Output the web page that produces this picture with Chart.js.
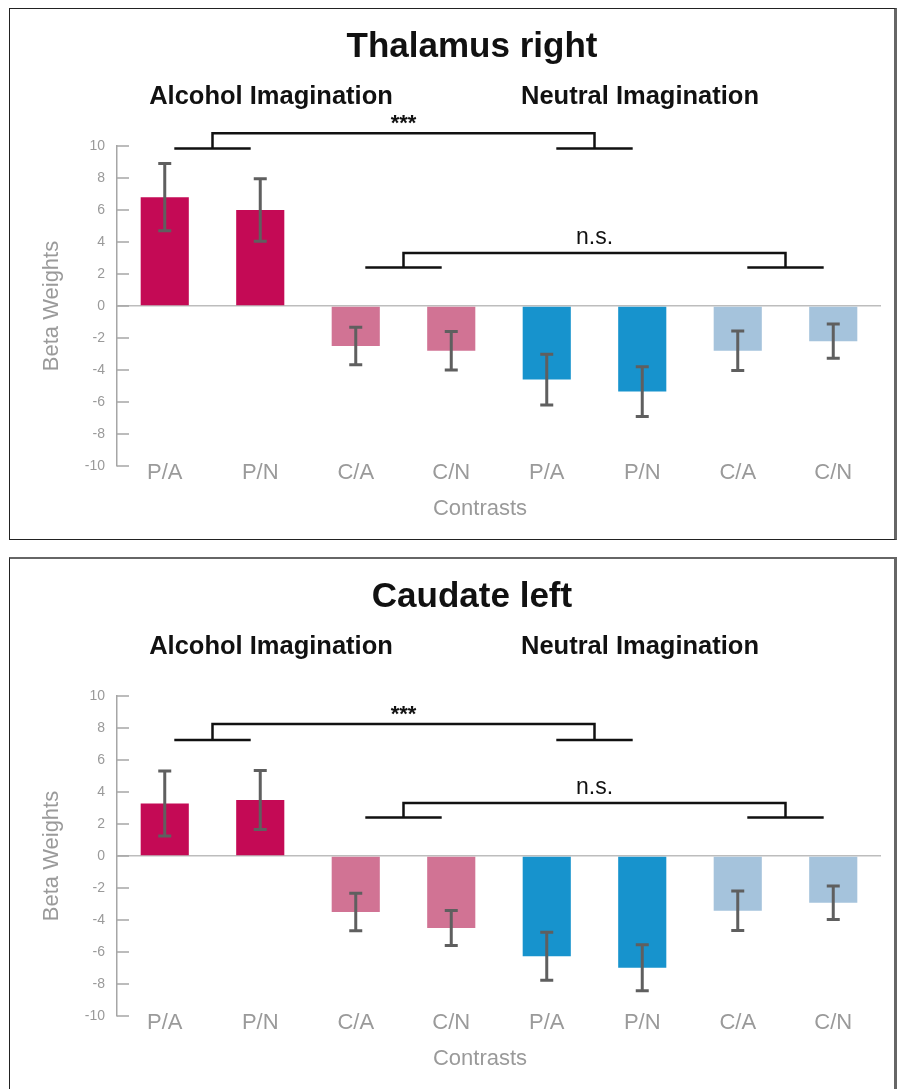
<!DOCTYPE html>
<html>
<head>
<meta charset="utf-8">
<script src="https://cdn.jsdelivr.net/npm/chart.js@4.4.1/dist/chart.umd.min.js"></script>
<style>
  body { margin: 0; background: #fff; width: 904px; height: 1089px; overflow: hidden; position: relative; }
  .panel { position: absolute; left: 9px; width: 884px; height: 530px; border: 1px solid #222; border-right: 3px solid #666; background: #fff; }
  #p1 { top: 8px; }
  #p2 { top: 557px; border-top: 2px solid #666; }
  canvas { display: block; }
</style>
</head>
<body>
<div class="panel" id="p1"><canvas id="thalamus" width="884" height="530"></canvas></div>
<div class="panel" id="p2"><canvas id="caudate" width="884" height="530"></canvas></div>
<script>
const contrasts = ['P/A', 'P/N', 'C/A', 'C/N', 'P/A', 'P/N', 'C/A', 'C/N'];
const barColors = ['#c40a55', '#c40a55', '#d17394', '#d17394', '#1793cd', '#1793cd', '#a5c3dc', '#a5c3dc'];

const thalamusBeta = [6.8, 6.0, -2.5, -2.8, -4.6, -5.35, -2.8, -2.2];
const thalamusSE = [2.1, 1.95, 1.17, 1.2, 1.58, 1.55, 1.23, 1.07];

const caudateBeta = [3.28, 3.5, -3.5, -4.5, -6.27, -6.98, -3.42, -2.92];
const caudateSE = [2.03, 1.85, 1.17, 1.09, 1.5, 1.44, 1.23, 1.05];

// significance brackets: between-bar positions (index units) and heights (beta units)
const thalamusBrackets = [
  { from: 0.5, to: 4.5, low: 9.85, high: 10.8, label: '***' },
  { from: 2.5, to: 6.5, low: 2.4, high: 3.32, label: 'n.s.' }
];
const caudateBrackets = [
  { from: 0.5, to: 4.5, low: 7.25, high: 8.25, label: '***' },
  { from: 2.5, to: 6.5, low: 2.4, high: 3.32, label: 'n.s.' }
];

const yTicks = [-10, -8, -6, -4, -2, 0, 2, 4, 6, 8, 10];

Chart.defaults.font.family = '"Liberation Sans", Arial, sans-serif';

function extras(title, se, brackets) {
  return {
    id: 'extras',
    afterDatasetsDraw(chart) {
      const ctx = chart.ctx;
      const y = chart.scales.y;
      const meta = chart.getDatasetMeta(0);
      const vals = chart.data.datasets[0].data;
      ctx.save();
      ctx.strokeStyle = '#5f5f5f';
      ctx.lineWidth = 3;
      meta.data.forEach((bar, i) => {
        const top = y.getPixelForValue(vals[i] + se[i]);
        const bot = y.getPixelForValue(vals[i] - se[i]);
        ctx.beginPath();
        ctx.moveTo(bar.x, top); ctx.lineTo(bar.x, bot);
        ctx.moveTo(bar.x - 6.5, top); ctx.lineTo(bar.x + 6.5, top);
        ctx.moveTo(bar.x - 6.5, bot); ctx.lineTo(bar.x + 6.5, bot);
        ctx.stroke();
      });
      ctx.restore();
    },
    afterDraw(chart) {
      const ctx = chart.ctx;
      const x = chart.scales.x;
      const y = chart.scales.y;
      const area = chart.chartArea;
      ctx.save();

      // inward y ticks
      ctx.strokeStyle = '#a6a6a6';
      ctx.lineWidth = 1.5;
      y.ticks.forEach(t => {
        const py = y.getPixelForValue(t.value);
        ctx.beginPath();
        ctx.moveTo(area.left, py);
        ctx.lineTo(area.left + 12, py);
        ctx.stroke();
      });

      // category labels, tucked up against the -10 line
      ctx.fillStyle = '#9a9a9a';
      ctx.font = '22px "Liberation Sans", Arial';
      ctx.textAlign = 'center';
      ctx.textBaseline = 'alphabetic';
      chart.data.labels.forEach((lab, i) => {
        ctx.fillText(lab, x.getPixelForValue(i), area.bottom + 12.5);
      });

      // brackets
      const half = 0.4;
      ctx.strokeStyle = '#111';
      ctx.lineWidth = 2.5;
      brackets.forEach(b => {
        const lo = y.getPixelForValue(b.low);
        const hi = y.getPixelForValue(b.high);
        const xa = x.getPixelForValue(b.from);
        const xb = x.getPixelForValue(b.to);
        ctx.beginPath();
        ctx.moveTo(x.getPixelForValue(b.from - half), lo);
        ctx.lineTo(x.getPixelForValue(b.from + half), lo);
        ctx.moveTo(x.getPixelForValue(b.to - half), lo);
        ctx.lineTo(x.getPixelForValue(b.to + half), lo);
        ctx.moveTo(xa, lo); ctx.lineTo(xa, hi); ctx.lineTo(xb, hi); ctx.lineTo(xb, lo);
        ctx.stroke();
        ctx.fillStyle = '#111';
        if (b.label === '***') {
          ctx.font = 'bold 22px "Liberation Sans", Arial';
          ctx.fillText(b.label, (xa + xb) / 2, hi - 3);
        } else {
          ctx.font = '23px "Liberation Sans", Arial';
          ctx.fillText(b.label, (xa + xb) / 2, hi - 9);
        }
      });

      // titles
      ctx.fillStyle = '#111';
      ctx.font = 'bold 35px "Liberation Sans", Arial';
      ctx.fillText(title, 462, 48);
      ctx.font = 'bold 25.5px "Liberation Sans", Arial';
      ctx.fillText('Alcohol Imagination', 261, 95);
      ctx.fillText('Neutral Imagination', 630, 95);

      // axis titles
      ctx.fillStyle = '#9a9a9a';
      ctx.font = '22px "Liberation Sans", Arial';
      ctx.fillText('Contrasts', 470, 506);
      ctx.translate(48, (area.top + area.bottom) / 2);
      ctx.rotate(-Math.PI / 2);
      ctx.fillText('Beta Weights', 0, 0);
      ctx.restore();
    }
  };
}

function makeChart(id, title, beta, se, brackets) {
  new Chart(
    document.getElementById(id),
    {
      type: 'bar',
      data: {
        labels: contrasts,
        datasets: [
          {
            label: title,
            data: beta,
            backgroundColor: barColors,
            borderWidth: 0,
            barPercentage: 0.504,
            categoryPercentage: 1
          }
        ]
      },
      options: {
        responsive: false,
        animation: false,
        layout: { padding: { top: 137, right: 13, bottom: 0, left: 0 } },
        plugins: {
          legend: { display: false },
          tooltip: { enabled: false }
        },
        scales: {
          x: {
            grid: { display: false },
            border: { display: false },
            ticks: { display: false },
            afterFit: s => { s.height = 73; }
          },
          y: {
            min: -10,
            max: 10,
            afterBuildTicks: s => { s.ticks = yTicks.map(v => ({ value: v })); },
            afterFit: s => { s.width = 107; },
            border: { color: '#a6a6a6', width: 1.5 },
            grid: {
              drawTicks: false,
              lineWidth: 1.5,
              color: c => (c.tick && c.tick.value === 0 ? '#bdbdbd' : 'rgba(0,0,0,0)')
            },
            ticks: { color: '#9a9a9a', font: { size: 14 }, padding: 12 }
          }
        }
      },
      plugins: [extras(title, se, brackets)]
    }
  );
}

makeChart('thalamus', 'Thalamus right', thalamusBeta, thalamusSE, thalamusBrackets);
makeChart('caudate', 'Caudate left', caudateBeta, caudateSE, caudateBrackets);
</script>
</body>
</html>
